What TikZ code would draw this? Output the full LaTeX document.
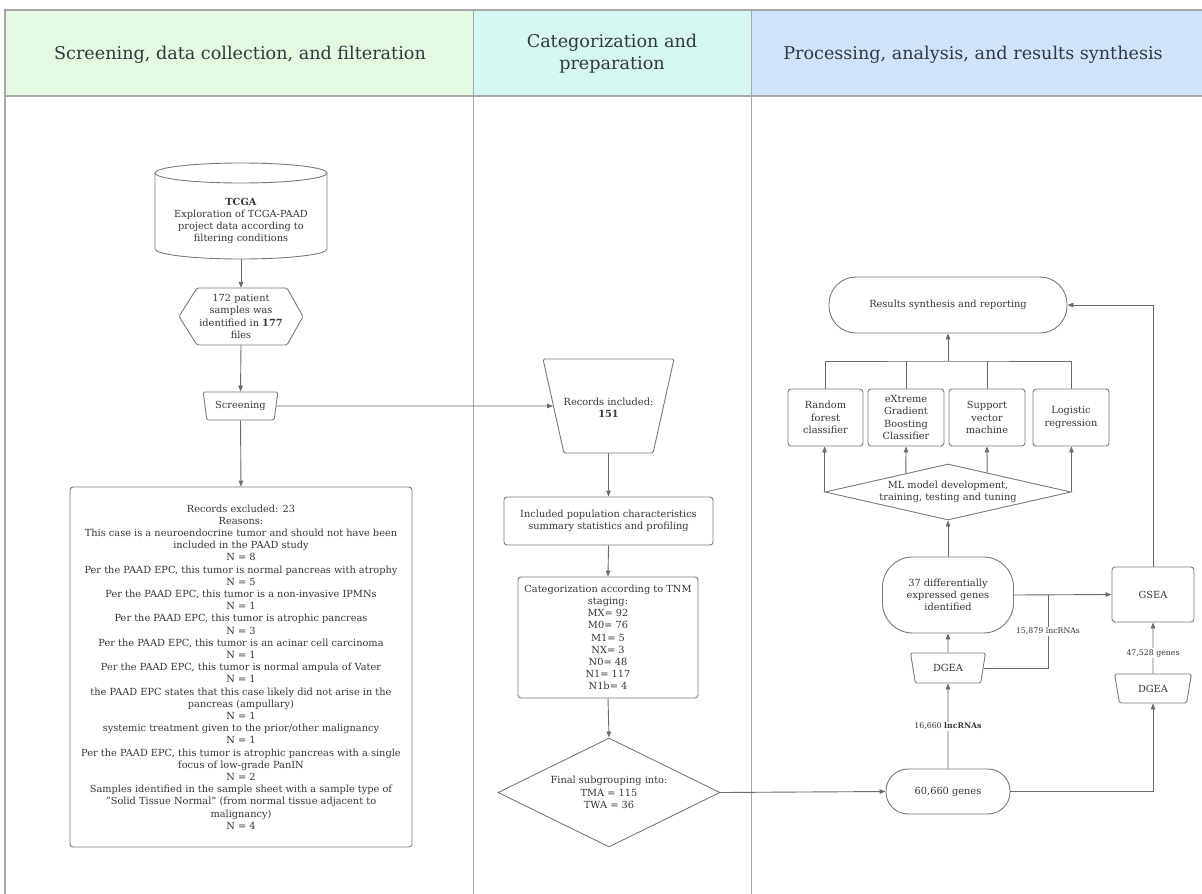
\documentclass[tikz,border=0pt]{standalone}
\usepackage{fontspec}
\setmainfont{DejaVu Serif}
\usetikzlibrary{arrows.meta,shapes.geometric,calc}
\definecolor{txt}{HTML}{33383F}
\definecolor{bord}{HTML}{7A7A7A}
\definecolor{lnc}{HTML}{6A6A6A}
\definecolor{pool}{HTML}{A8A8A8}
\definecolor{hA}{HTML}{E3F9E1}
\definecolor{hB}{HTML}{D6F7F1}
\definecolor{hC}{HTML}{D1E2FB}
\begin{document}
\begin{tikzpicture}[x=1pt,y=-1pt, font=\fontsize{9.8}{12.2}\selectfont, text=txt,
 box/.style={draw=bord, line width=0.9pt, rounded corners=3pt, align=center, inner sep=1pt},
 arr/.style={draw=lnc, line width=0.9pt, -{Triangle[length=6pt,width=4.5pt]}},
 conn/.style={draw=lnc, line width=0.9pt},
 trap/.style={trapezium, draw=bord, line width=0.9pt, trapezium stretches=true, shape border rotate=180, trapezium left angle=76, trapezium right angle=76, inner sep=1pt, rounded corners=1.5pt},
 dia/.style={diamond, draw=bord, line width=0.9pt, inner sep=1pt},
 shp/.style={draw=bord, line width=0.9pt},
 plain/.style={inner sep=0pt, align=center},
 edgelbl/.style={fill=white, font=\fontsize{7.8}{9}\selectfont, inner sep=1pt},
 hdr/.style={font=\fontsize{17.6}{22}\selectfont, align=center, text=txt}]

\useasboundingbox (0,0) rectangle (1202,894);
\fill[white] (0,0) rectangle (1202,894);
% pool
\fill[hA] (5,10) rectangle (473,96);
\fill[hB] (473,10) rectangle (751,96);
\fill[hC] (751,10) rectangle (1202,96);
\draw[pool, line width=1.2pt] (5,894) -- (5,10) -- (1202,10);
\draw[pool, line width=1.8pt] (5,96) -- (1202,96);
\draw[pool, line width=1pt] (473,10) -- (473,894);
\draw[pool, line width=1pt] (751,10) -- (751,894);
\node[hdr] (h1) at (240,55) {Screening, data collection, and filteration};
\node[hdr] (h2) at (612,54) {Categorization and\\preparation};
\node[hdr] (h3) at (973,55) {Processing, analysis, and results synthesis};

% left column
\node[plain, minimum width=172, minimum height=96,
  label={[align=center, yshift=-10pt]center:{\textbf{TCGA}\\Exploration of TCGA-PAAD\\project data according to\\filtering conditions}}] (tcga) at (241,211) {};
\draw[shp] (155,173) -- (155,249) arc[start angle=180, end angle=360, x radius=86pt, y radius=10pt] -- (327,173);
\draw[shp] (241,173) ellipse[x radius=86pt, y radius=10pt];

\node[plain, minimum width=123, minimum height=57] (hex) at (241,316.5) {172 patient\\samples was\\identified in \textbf{177}\\files};
\draw[shp, rounded corners=1.5pt] (179,316.5) -- (197,288) -- (287,288) -- (303,316.5) -- (287,345) -- (197,345) -- cycle;

\node[trap, minimum width=75, minimum height=28] (scr) at (240.5,406) {Screening};

\node[box, minimum width=342, minimum height=360, inner sep=2pt] (excl) at (241,667) {Records excluded: 23\\
Reasons:\\
This case is a neuroendocrine tumor and should not have been\\
included in the PAAD study\\
N = 8\\
Per the PAAD EPC, this tumor is normal pancreas with atrophy\\
N = 5\\
Per the PAAD EPC, this tumor is a non-invasive IPMNs\\
N = 1\\
Per the PAAD EPC, this tumor is atrophic pancreas\\
N = 3\\
Per the PAAD EPC, this tumor is an acinar cell carcinoma\\
N = 1\\
Per the PAAD EPC, this tumor is normal ampula of Vater\\
N = 1\\
the PAAD EPC states that this case likely did not arise in the\\
pancreas (ampullary)\\
N = 1\\
systemic treatment given to the prior/other malignancy\\
N = 1\\
Per the PAAD EPC, this tumor is atrophic pancreas with a single\\
focus of low-grade PanIN\\
N = 2\\
Samples identified in the sample sheet with a sample type of\\
"Solid Tissue Normal" (from normal tissue adjacent to\\
malignancy)\\
N = 4};

% middle column
\node[trap, minimum width=131, minimum height=94,
  label={[align=center, yshift=-2pt]center:{Records included:\\\textbf{151}}}] (rec) at (608.5,406) {\phantom{x}};
\node[box, minimum width=209, minimum height=48] (pop) at (608.5,521) {Included population characteristics\\summary statistics and profiling};
\node[box, minimum width=180, minimum height=121] (cat) at (608,637.5) {Categorization according to TNM\\staging:\\MX= 92\\M0= 76\\M1= 5\\NX= 3\\N0= 48\\N1= 117\\N1b= 4};
\node[dia, minimum width=222, minimum height=109,
  label={[align=center]center:{Final subgrouping into:\\TMA = 115\\TWA = 36}}] (fin) at (609,792.5) {\phantom{x}};

% right column
\node[box, rounded corners=27pt, minimum width=238, minimum height=56] (res) at (948,305) {Results synthesis and reporting};
\node[box, minimum width=75, minimum height=57] (rf) at (825.5,417.5) {Random\\forest\\classifier};
\node[box, minimum width=76, minimum height=57] (xg) at (906,417.5) {eXtreme\\Gradient\\Boosting\\Classifier};
\node[box, minimum width=76, minimum height=57] (sv) at (987,417.5) {Support\\vector\\machine};
\node[box, minimum width=76, minimum height=57] (lr) at (1071,417.5) {Logistic\\regression};
\node[dia, minimum width=246, minimum height=56,
  label={[align=center]center:{ML model development,\\training, testing and tuning}}] (ml) at (948,492) {\phantom{x}};
\node[box, rounded corners=30pt, minimum width=131, minimum height=76] (deg) at (948,595) {37 differentially\\expressed genes\\identified};
\node[trap, minimum width=75, minimum height=30] (dg1) at (948,668) {DGEA};
\node[box, rounded corners=22pt, minimum width=124, minimum height=45] (g60) at (948,791.5) {60,660 genes};
\node[box, minimum width=82, minimum height=55] (gsea) at (1153,594.5) {GSEA};
\node[trap, minimum width=77, minimum height=29] (dg2) at (1153,688.5) {DGEA};

% connectors
\draw[arr] (tcga.south) -- (hex.north);
\draw[arr] (hex.south) -- (scr.north);
\draw[arr] (scr.south) -- (excl.north);
\draw[arr] (scr.east) -- (rec.west);
\draw[arr] (rec.south) -- (pop.north);
\draw[arr] (pop.south) -- (cat.north);
\draw[arr] (cat.south) -- (fin.north);
\draw[arr] (fin.east) -- (g60.west);
\draw[arr] (g60.north) -- node[edgelbl]{16,660 \textbf{lncRNAs}} (dg1.south);
\draw[arr] (dg1.north) -- (deg.south);
\draw[arr] (deg.north) -- (ml.south);
\draw[arr] (ml.west) -- (ml.west |- rf.south);
\draw[arr] ($(ml.west)!0.6585!(ml.north)$) -- (xg.south);
\draw[arr] ($(ml.north)!0.317!(ml.east)$) -- (sv.south);
\draw[arr] (ml.east) -- (ml.east |- lr.south);
\coordinate (jn) at (948,361);
\draw[conn] (rf.north) |- (jn) -| (lr.north);
\draw[conn] (xg.north) -- (xg.north |- jn);
\draw[conn] (sv.north) -- (sv.north |- jn);
\draw[arr] (jn) -- (res.south);
\coordinate (j2) at (1048,595);
\draw[conn] (dg1.east) -| node[pos=0.75, edgelbl]{15,879 lncRNAs} (j2);
\draw[arr] (deg.east) -- (gsea.west);
\draw[arr] (g60.east) -| (dg2.south);
\draw[arr] (dg2.north) -- node[edgelbl, pos=0.4]{47,528 genes} (gsea.south);
\draw[arr] (gsea.north) |- (res.east);
\end{tikzpicture}
\end{document}
